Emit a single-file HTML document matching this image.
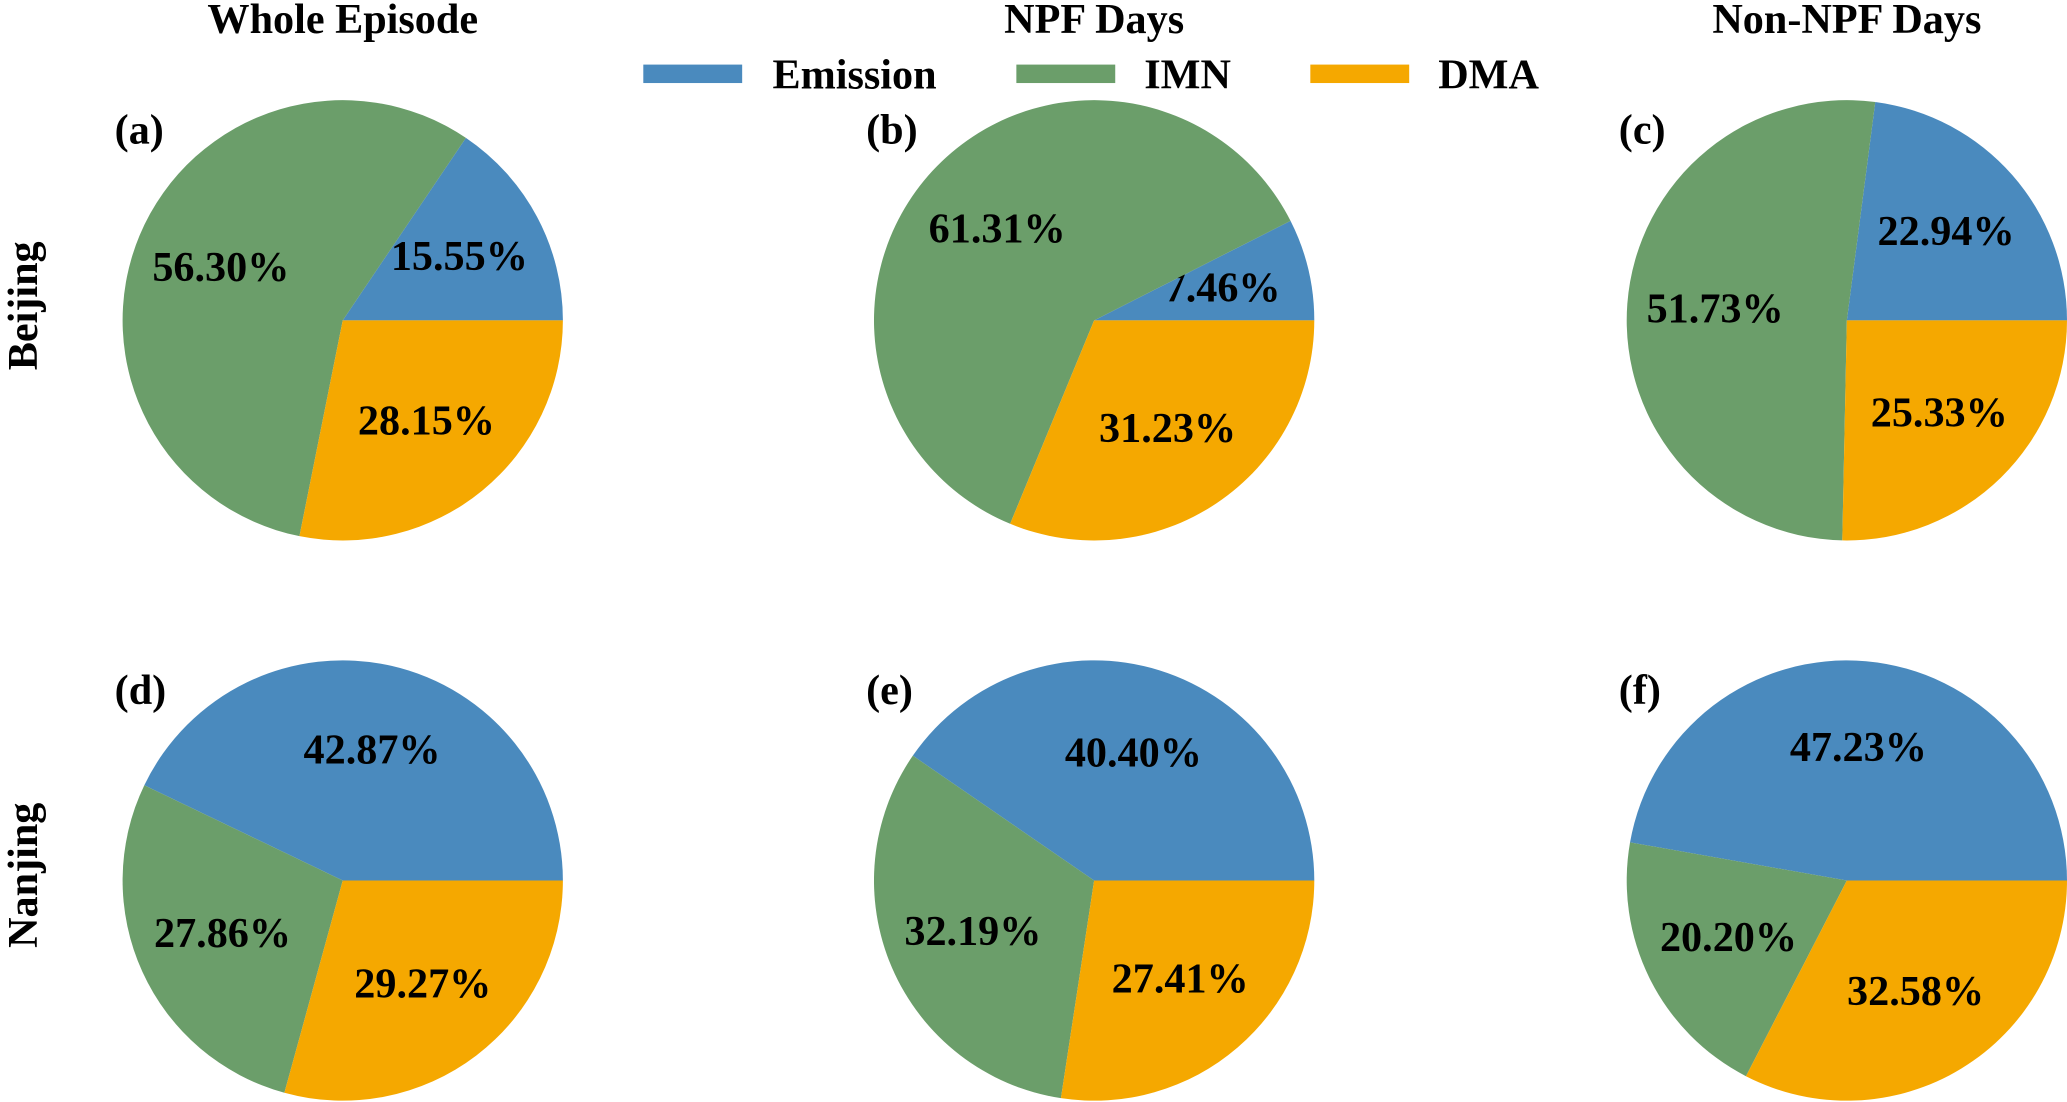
<!DOCTYPE html>
<html><head><meta charset="utf-8"><style>
html,body{margin:0;padding:0;background:#fff;}
svg{display:block;}
text{font-family:"Liberation Serif",serif;font-weight:bold;fill:#000;}
</style></head><body>
<svg id="chart" width="2067" height="1102" viewBox="0 0 1568 836" preserveAspectRatio="none" xmlns="http://www.w3.org/2000/svg">
<g id="titles">
<text x="260" y="25" font-size="32" text-anchor="middle">Whole Episode</text>
<text x="830" y="25" font-size="32" text-anchor="middle">NPF Days</text>
<text x="1401" y="25" font-size="32" text-anchor="middle">Non-NPF Days</text>
<text transform="translate(28,232) rotate(-90)" font-size="32" text-anchor="middle">Beijing</text>
<text transform="translate(28,664) rotate(-90)" font-size="32" text-anchor="middle">Nanjing</text>
</g>
<g id="legend">
<rect x="488" y="49" width="75" height="14" fill="#4a8abe"/>
<text x="586" y="67" font-size="32">Emission</text>
<rect x="771" y="49" width="75" height="14" fill="#6b9e6a"/>
<text x="868" y="67" font-size="32">IMN</text>
<rect x="994" y="49" width="75" height="14" fill="#f5a800"/>
<text x="1091" y="67" font-size="32">DMA</text>
</g>
<g id="pies"></g>
</svg>
<script>
const panelLabels = ["(a)","(b)","(c)","(d)","(e)","(f)"];
const emissionValues = [15.55, 7.46, 22.94, 42.87, 40.40, 47.23];
const imnValues = [56.30, 61.31, 51.73, 27.86, 32.19, 20.20];
const dmaValues = [28.15, 31.23, 25.33, 29.27, 27.41, 32.58];
const seriesNames = ["emission","imn","dma"];
const colors = ["#4a8abe","#6b9e6a","#f5a800"];

const NS = "http://www.w3.org/2000/svg";
const g = document.getElementById("pies");
const colX = [260, 830, 1401];
const rowY = [243, 668];
const R = 167;
for (let p = 0; p < 6; p++) {
  const cx = colX[p % 3], cy = rowY[Math.floor(p / 3)];
  const vals = [emissionValues[p], imnValues[p], dmaValues[p]];
  const total = vals.reduce((a, b) => a + b, 0);
  let a0 = 0;
  const grp = document.createElementNS(NS, "g");
  
  
  g.appendChild(grp);
  for (let i = 0; i < 3; i++) {
    const frac = vals[i] / total;
    const a1 = a0 + frac * 2 * Math.PI;
    const x0 = cx + R * Math.cos(a0), y0 = cy - R * Math.sin(a0);
    const x1 = cx + R * Math.cos(a1), y1 = cy - R * Math.sin(a1);
    const large = frac > 0.5 ? 1 : 0;
    const path = document.createElementNS(NS, "path");
    path.setAttribute("d", `M${cx},${cy} L${x0},${y0} A${R},${R} 0 ${large} 0 ${x1},${y1} Z`);
    path.setAttribute("fill", colors[i]);
    
    
    grp.appendChild(path);
    const am = (a0 + a1) / 2;
    const t = document.createElementNS(NS, "text");
    t.setAttribute("x", cx + 0.6 * R * Math.cos(am));
    t.setAttribute("y", cy - 0.6 * R * Math.sin(am) + 9);
    t.setAttribute("font-size", "32");
    t.setAttribute("text-anchor", "middle");
    t.textContent = vals[i].toFixed(2) + "%";
    
    
    grp.appendChild(t);
    a0 = a1;
  }
  const lab = document.createElementNS(NS, "text");
  lab.setAttribute("x", cx - 173);
  lab.setAttribute("y", cy - 134);
  lab.setAttribute("font-size", "32");
  lab.textContent = panelLabels[p];
  
  
  grp.appendChild(lab);
}
</script>
</body></html>
